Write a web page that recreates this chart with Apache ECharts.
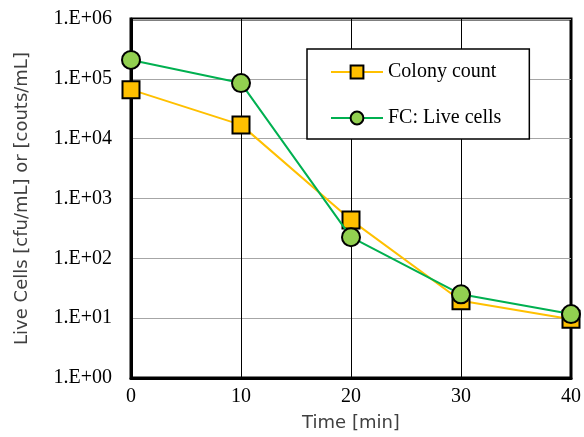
<!DOCTYPE html>
<html>
<head>
<meta charset="utf-8">
<script src="https://cdn.jsdelivr.net/npm/echarts@6/dist/echarts.min.js"></script>
<style>html,body{margin:0;padding:0;background:#fff;}#c{width:584px;height:437px;}</style>
</head>
<body>
<div id="c"></div>
<script>
var times = [0, 10, 20, 30, 40];
var colonyCount = [66000, 17000, 436, 19.5, 9.6];
var fcLiveCells = [207000, 85000, 226, 25, 11.7];
var seriesNames = ['Colony count', 'FC: Live cells'];

var chart = echarts.init(document.getElementById('c'), null, {renderer: 'canvas'});
function pairs(xs, ys) { return xs.map(function (x, i) { return [x, ys[i]]; }); }
chart.setOption({
  animation: false,
  backgroundColor: '#fff',
  grid: {left: 131, right: 12, top: 19, bottom: 58, show: true, borderColor: '#000', borderWidth: 3, backgroundColor: 'transparent'},
  legend: {
    data: seriesNames,
    orient: 'vertical',
    left: 307, top: 49,
    padding: [13, 28, 11, 23],
    itemGap: 26,
    itemWidth: 52,
    itemHeight: 16,
    backgroundColor: '#fff',
    borderColor: '#000',
    borderWidth: 1.5,
    borderRadius: 0,
    textStyle: {fontFamily: 'Liberation Serif', fontSize: 20, color: '#000'}
  },
  xAxis: {
    type: 'value', min: 0, max: 40, interval: 10,
    name: 'Time [min]', nameLocation: 'middle', nameGap: 36,
    nameTextStyle: {fontFamily: 'DejaVu Sans', fontSize: 18, color: '#404040'},
    axisLine: {show: true, lineStyle: {color: '#000', width: 3}},
    axisTick: {show: false},
    axisLabel: {fontFamily: 'Liberation Serif', fontSize: 20, color: '#000', margin: 9},
    splitLine: {show: true, lineStyle: {color: '#000', width: 1}}
  },
  yAxis: {
    type: 'log', logBase: 10, min: 1, max: 1000000,
    name: 'Live Cells [cfu/mL] or [couts/mL]', nameLocation: 'middle', nameGap: 100,
    nameTextStyle: {fontFamily: 'DejaVu Sans', fontSize: 18, color: '#404040'},
    axisLine: {show: true, lineStyle: {color: '#000', width: 3}},
    axisTick: {show: false},
    axisLabel: {
      fontFamily: 'Liberation Serif', fontSize: 20, color: '#000', margin: 19,
      formatter: function (v) { var e = Math.round(Math.log10(v)); return '1.E+' + (e < 10 ? '0' : '') + e; }
    },
    splitLine: {show: true, lineStyle: {color: '#a6a6a6', width: 1}}
  },
  series: [
    {
      name: seriesNames[0], type: 'line', data: pairs(times, colonyCount),
      symbol: 'rect', symbolSize: 17,
      lineStyle: {color: '#FFC000', width: 2},
      itemStyle: {color: '#FFC000', borderColor: '#000', borderWidth: 2},
      z: 3
    },
    {
      name: seriesNames[1], type: 'line', data: pairs(times, fcLiveCells),
      symbol: 'circle', symbolSize: 18,
      lineStyle: {color: '#00B050', width: 2},
      itemStyle: {color: '#92D050', borderColor: '#000', borderWidth: 2},
      z: 4
    }
  ]
});
</script>
</body>
</html>
